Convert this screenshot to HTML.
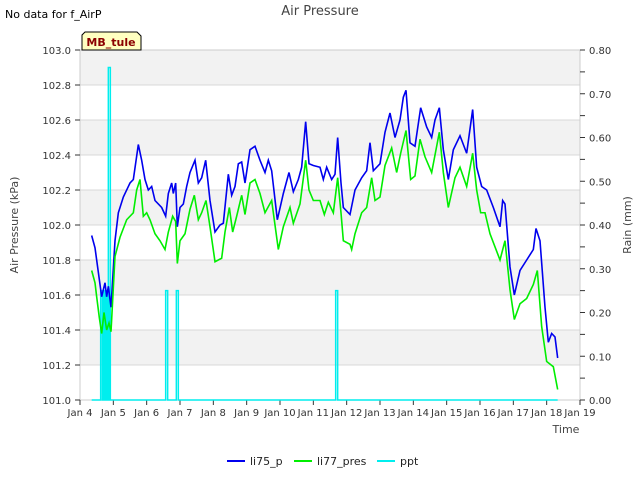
<!DOCTYPE html>
<html><head><meta charset="utf-8"><style>
body{margin:0;background:#fff;font-family:"Liberation Sans","DejaVu Sans",sans-serif}
svg text{font-family:"DejaVu Sans","Liberation Sans",sans-serif}
</style></head><body>
<svg id="chart" width="640" height="480" xmlns="http://www.w3.org/2000/svg">
<rect width="640" height="480" fill="#fff"/>
<g id="bands"></g>
<g id="grid"></g>
<rect x="80" y="50" width="500" height="350" fill="none" stroke="#ccc"/>
<g id="axes"></g>
<g id="series"></g>
<text x="5" y="18" font-size="11" fill="#000">No data for f_AirP</text>
<text x="320" y="15" font-size="13" fill="#444" text-anchor="middle">Air Pressure</text>
<g>
<path d="M82,50 L82,35 L85,32 L137,32 L141,36 L141,50 Z" fill="#ffffc0" stroke="#000"/>
<text x="111" y="46" font-size="11" font-weight="bold" fill="#8b0000" text-anchor="middle">MB_tule</text>
</g>
<text transform="translate(18,225) rotate(-90)" font-size="11" fill="#444" text-anchor="middle">Air Pressure (kPa)</text>
<text transform="translate(631,225) rotate(-90)" font-size="11" fill="#444" text-anchor="middle">Rain (mm)</text>
<text x="566" y="433" font-size="11" fill="#444" text-anchor="middle">Time</text>
<g>
<g><line x1="227" y1="461" x2="245" y2="461" stroke="#0000ee" stroke-width="2"/><text x="250" y="465" font-size="11" fill="#222">li75_p</text></g>
<g><line x1="294" y1="461" x2="312" y2="461" stroke="#00ee00" stroke-width="2"/><text x="317" y="465" font-size="11" fill="#222">li77_pres</text></g>
<g><line x1="377" y1="461" x2="395" y2="461" stroke="#00eeee" stroke-width="2"/><text x="400" y="465" font-size="11" fill="#222">ppt</text></g>
</g>
</svg>
<script>
const xTickLabels=["Jan 4","Jan 5","Jan 6","Jan 7","Jan 8","Jan 9","Jan 10","Jan 11","Jan 12","Jan 13","Jan 14","Jan 15","Jan 16","Jan 17","Jan 18","Jan 19"];
const yTicks=[101.0,101.2,101.4,101.6,101.8,102.0,102.2,102.4,102.6,102.8,103.0];
const y2Ticks=[0,0.1,0.2,0.3,0.4,0.5,0.6,0.7,0.8];
const li75Days=[0.35,0.45,0.5,0.65,0.75,0.8,0.85,0.93,1.05,1.15,1.3,1.5,1.6,1.75,1.85,1.95,2.05,2.15,2.25,2.45,2.57,2.65,2.75,2.8,2.87,2.92,3.0,3.1,3.2,3.3,3.45,3.55,3.65,3.77,3.9,4.05,4.2,4.3,4.45,4.55,4.65,4.75,4.85,4.95,5.1,5.25,5.4,5.55,5.65,5.75,5.92,6.1,6.27,6.4,6.55,6.65,6.77,6.87,7.0,7.2,7.3,7.4,7.55,7.65,7.73,7.83,7.9,8.1,8.25,8.45,8.6,8.7,8.8,9.0,9.15,9.3,9.45,9.6,9.7,9.78,9.9,10.05,10.22,10.4,10.55,10.65,10.78,10.9,11.05,11.2,11.4,11.6,11.78,11.9,12.05,12.2,12.4,12.6,12.68,12.75,12.9,13.03,13.2,13.4,13.6,13.68,13.8,13.95,14.05,14.15,14.25,14.33];
const li75Vals=[101.94,101.87,101.80,101.59,101.67,101.59,101.65,101.53,101.91,102.07,102.16,102.24,102.26,102.46,102.37,102.26,102.20,102.22,102.14,102.10,102.05,102.18,102.24,102.18,102.24,101.99,102.10,102.12,102.22,102.30,102.37,102.24,102.27,102.37,102.14,101.96,102.00,102.01,102.29,102.17,102.22,102.35,102.36,102.24,102.43,102.45,102.37,102.30,102.37,102.31,102.03,102.18,102.30,102.19,102.26,102.33,102.59,102.35,102.34,102.33,102.26,102.33,102.26,102.29,102.50,102.24,102.10,102.06,102.20,102.27,102.31,102.47,102.31,102.35,102.53,102.64,102.50,102.60,102.73,102.77,102.47,102.45,102.67,102.56,102.50,102.60,102.67,102.43,102.26,102.43,102.51,102.41,102.66,102.33,102.22,102.20,102.10,101.99,102.14,102.12,101.76,101.60,101.74,101.80,101.86,101.98,101.91,101.53,101.33,101.38,101.36,101.24];
const li77Days=[0.35,0.45,0.5,0.58,0.65,0.72,0.8,0.87,0.93,1.05,1.2,1.3,1.4,1.5,1.6,1.7,1.8,1.9,2.0,2.1,2.25,2.4,2.55,2.65,2.78,2.87,2.92,3.0,3.15,3.3,3.43,3.55,3.65,3.78,3.9,4.05,4.25,4.35,4.48,4.58,4.7,4.85,4.95,5.1,5.25,5.4,5.55,5.75,5.95,6.1,6.3,6.4,6.6,6.77,6.87,7.0,7.2,7.33,7.45,7.6,7.73,7.83,7.9,8.1,8.15,8.25,8.45,8.6,8.75,8.85,9.0,9.15,9.35,9.5,9.62,9.78,9.92,10.05,10.2,10.35,10.55,10.78,10.9,11.05,11.25,11.4,11.6,11.78,11.9,12.02,12.15,12.3,12.6,12.75,12.9,13.03,13.2,13.4,13.6,13.72,13.85,14.0,14.2,14.33];
const li77Vals=[101.74,101.67,101.59,101.47,101.38,101.50,101.40,101.44,101.39,101.82,101.93,101.98,102.03,102.05,102.07,102.20,102.26,102.05,102.07,102.03,101.95,101.91,101.86,101.96,102.05,102.02,101.78,101.91,101.95,102.09,102.17,102.03,102.07,102.14,101.99,101.79,101.81,101.96,102.10,101.96,102.05,102.17,102.06,102.24,102.26,102.18,102.07,102.14,101.86,101.99,102.10,102.01,102.12,102.37,102.20,102.14,102.14,102.06,102.13,102.07,102.27,102.07,101.91,101.89,101.86,101.95,102.07,102.10,102.27,102.14,102.16,102.34,102.44,102.30,102.41,102.54,102.26,102.28,102.49,102.39,102.30,102.53,102.30,102.10,102.27,102.33,102.22,102.41,102.20,102.07,102.07,101.95,101.80,101.91,101.63,101.46,101.55,101.58,101.66,101.74,101.42,101.22,101.19,101.06];
const pptDays=[0.65,0.7,0.75,0.8,0.85,0.88,2.6,2.92,7.7];
const pptVals=[0.25,0.25,0.25,0.25,0.25,0.76,0.25,0.25,0.25];
const pptStart=0.35, pptEnd=14.33;

const NS="http://www.w3.org/2000/svg";
const X=d=>80+d*500/15;
const Y=v=>400-(v-101)*175;
const Y2=v=>400-v*350/0.8;
function mk(tag,attrs,parent){const e=document.createElementNS(NS,tag);for(const k in attrs)e.setAttribute(k,attrs[k]);parent.appendChild(e);return e;}
const bands=document.getElementById('bands'),grid=document.getElementById('grid'),axes=document.getElementById('axes'),series=document.getElementById('series');
for(let i=0;i<yTicks.length-1;i++){
  if(i%2===1){const b=mk('rect',{x:80,y:Y(yTicks[i+1]),width:500,height:Y(yTicks[i])-Y(yTicks[i+1]),fill:'#f2f2f2'},bands);
  
  }
}
yTicks.forEach(v=>{
  const g=mk('line',{x1:80,x2:580,y1:Y(v),y2:Y(v),stroke:'#d8d8d8'},grid);
  
  
  const t=mk('text',{x:71,y:Y(v)+4,'font-size':10,'text-anchor':'end',fill:'#333'},axes);
  t.textContent=v.toFixed(1);
  
  
  mk('line',{x1:75,x2:80,y1:Y(v),y2:Y(v),stroke:'#333'},axes);
});
for(let v=0;v<=0.8001;v+=0.05){mk('line',{x1:580,x2:585,y1:Y2(v),y2:Y2(v),stroke:'#333'},axes);}
y2Ticks.forEach(v=>{
  const t=mk('text',{x:589,y:Y2(v)+4,'font-size':10,fill:'#333'},axes);
  t.textContent=v.toFixed(2);
  
  
});
xTickLabels.forEach((l,i)=>{
  mk('line',{x1:X(i),x2:X(i),y1:400,y2:405,stroke:'#333'},axes);
  const t=mk('text',{x:X(i),y:416,'font-size':10,'text-anchor':'middle',fill:'#333'},axes);
  t.textContent=l;
  
  
});
// ppt
let pp=[[X(pptStart),Y2(0)]];
pptDays.forEach((d,i)=>{pp.push([X(d)-1,Y2(0)],[X(d)-1,Y2(pptVals[i])],[X(d)+1,Y2(pptVals[i])],[X(d)+1,Y2(0)]);});
pp.push([X(pptEnd),Y2(0)]);
const ppt=mk('polyline',{points:pp.map(p=>p.join(',')).join(' '),fill:'none',stroke:'#00eeee','stroke-width':1.5},series);


const l75=mk('polyline',{points:li75Days.map((d,i)=>X(d)+','+Y(li75Vals[i])).join(' '),fill:'none',stroke:'#0000ee','stroke-width':1.6},series);


const l77=mk('polyline',{points:li77Days.map((d,i)=>X(d)+','+Y(li77Vals[i])).join(' '),fill:'none',stroke:'#00ee00','stroke-width':1.6},series);


</script>
</body></html>
